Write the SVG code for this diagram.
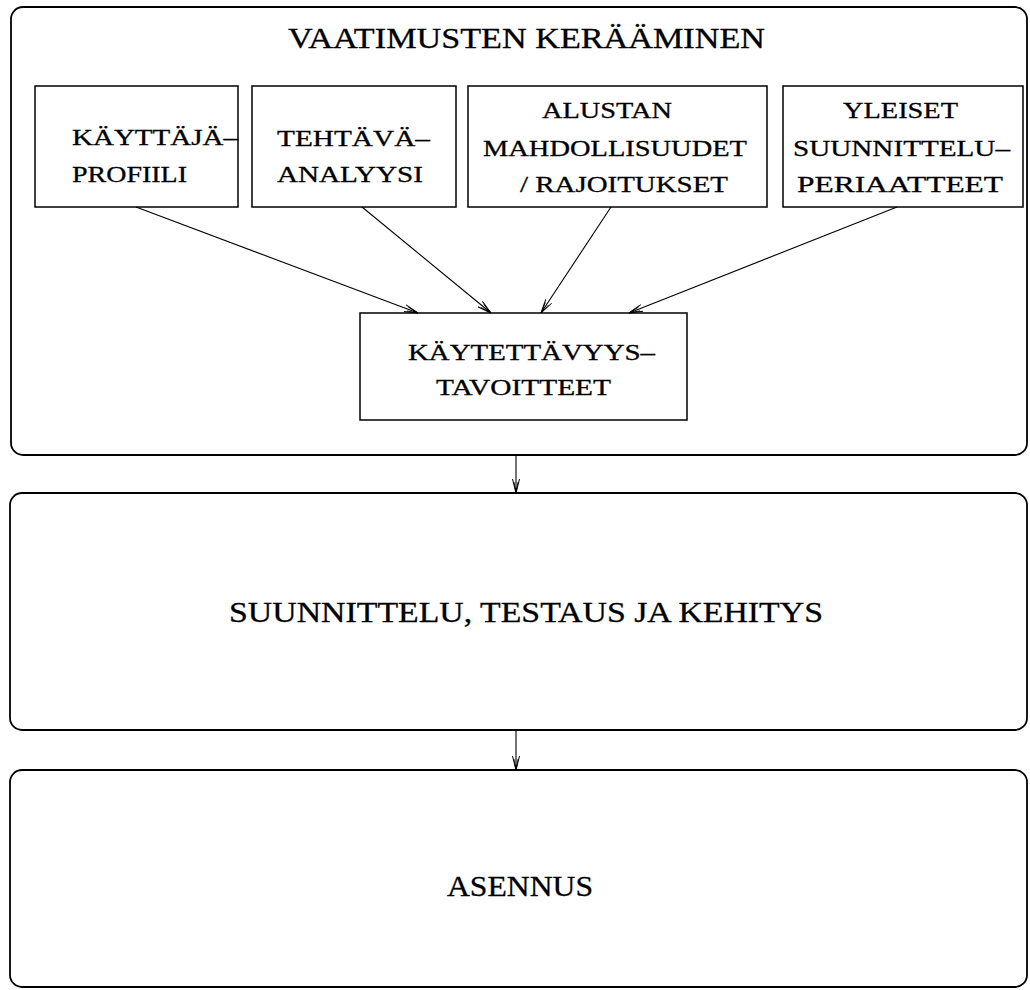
<svg xmlns="http://www.w3.org/2000/svg" width="1030" height="990" viewBox="0 0 1030 990">
<style>
.stage{fill:none;stroke:#000;stroke-width:1.8}
.box{fill:#fff;stroke:#000;stroke-width:1.5}
.t{font-family:"Liberation Serif","Times New Roman",serif;fill:#000;stroke:#000;stroke-width:0.3}
.s{font-size:24px}
.l{font-size:29px}
.c{stroke:#000;stroke-width:1.1;fill:none}
</style>
<defs>
<marker id="ah" viewBox="0 0 14 8" refX="14" refY="4" markerWidth="14" markerHeight="8" markerUnits="userSpaceOnUse" orient="auto">
<path d="M0,0.5 L14,4 L0,7.5" fill="none" stroke="#000" stroke-width="1"/>
<path d="M3,2 L14,4 L3,6" fill="none" stroke="#000" stroke-width="0.8"/>
<path d="M9,2.7 L14,4 L9,5.3 Z" fill="#000"/>
</marker>
</defs>
<rect width="1030" height="990" fill="#fff"/>
<g id="stage1">
<rect class="stage" x="11" y="7" width="1016" height="448" rx="12" ry="12"/>
<text class="t l" x="288" y="48" textLength="477" lengthAdjust="spacingAndGlyphs">VAATIMUSTEN KERÄÄMINEN</text>
</g>
<g id="kayttajaprofiili">
<rect class="box" x="35" y="86" width="203" height="121"/>
<text class="t s" x="72" y="145" textLength="166" lengthAdjust="spacingAndGlyphs">KÄYTTÄJÄ–</text>
<text class="t s" x="72" y="182" textLength="115" lengthAdjust="spacingAndGlyphs">PROFIILI</text>
</g>
<g id="tehtavaanalyysi">
<rect class="box" x="252" y="86" width="204" height="121"/>
<text class="t s" x="277" y="146" textLength="153" lengthAdjust="spacingAndGlyphs">TEHTÄVÄ–</text>
<text class="t s" x="277" y="182" textLength="146" lengthAdjust="spacingAndGlyphs">ANALYYSI</text>
</g>
<g id="alusta">
<rect class="box" x="468" y="86" width="299" height="121"/>
<text class="t s" x="542" y="118" textLength="130" lengthAdjust="spacingAndGlyphs">ALUSTAN</text>
<text class="t s" x="483" y="156" textLength="264" lengthAdjust="spacingAndGlyphs">MAHDOLLISUUDET</text>
<text class="t s" x="520" y="192" textLength="208" lengthAdjust="spacingAndGlyphs">/ RAJOITUKSET</text>
</g>
<g id="periaatteet">
<rect class="box" x="783" y="86" width="240" height="121"/>
<text class="t s" x="843" y="118" textLength="115" lengthAdjust="spacingAndGlyphs">YLEISET</text>
<text class="t s" x="793" y="156" textLength="217" lengthAdjust="spacingAndGlyphs">SUUNNITTELU–</text>
<text class="t s" x="797" y="192" textLength="206" lengthAdjust="spacingAndGlyphs">PERIAATTEET</text>
</g>
<g id="tavoitteet">
<rect class="box" x="360" y="313" width="327" height="107"/>
<text class="t s" x="408" y="360" textLength="247" lengthAdjust="spacingAndGlyphs">KÄYTETTÄVYYS–</text>
<text class="t s" x="436" y="395" textLength="175" lengthAdjust="spacingAndGlyphs">TAVOITTEET</text>
</g>
<g id="stage2">
<rect class="stage" x="10" y="493" width="1017" height="237" rx="12" ry="12"/>
<text class="t l" x="229" y="622" textLength="594" lengthAdjust="spacingAndGlyphs">SUUNNITTELU, TESTAUS JA KEHITYS</text>
</g>
<g id="stage3">
<rect class="stage" x="10" y="770" width="1017" height="217" rx="12" ry="12"/>
<text class="t l" x="447" y="896" textLength="146" lengthAdjust="spacingAndGlyphs">ASENNUS</text>
</g>
<g id="connectors">
<line class="c" x1="136" y1="207" x2="418" y2="313" marker-end="url(#ah)"/>
<line class="c" x1="362" y1="207" x2="491" y2="313" marker-end="url(#ah)"/>
<line class="c" x1="611" y1="207" x2="541" y2="313" marker-end="url(#ah)"/>
<line class="c" x1="897" y1="207" x2="629" y2="313" marker-end="url(#ah)"/>
<line class="c" x1="516" y1="455" x2="516" y2="493" marker-end="url(#ah)"/>
<line class="c" x1="516" y1="730" x2="516" y2="770" marker-end="url(#ah)"/>
</g>
</svg>
